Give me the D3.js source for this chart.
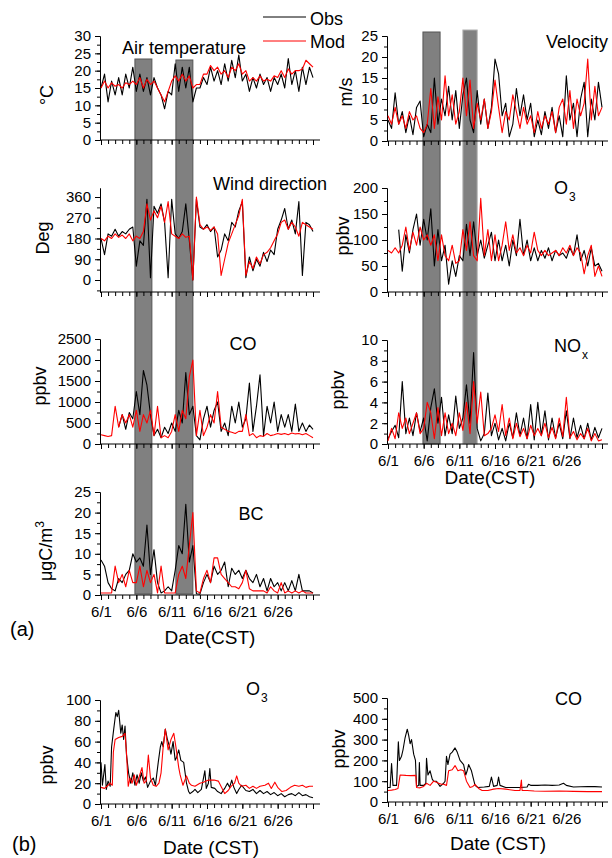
<!DOCTYPE html>
<html>
<head>
<meta charset="utf-8">
<script src="https://cdn.jsdelivr.net/npm/d3@7"></script>
<style>
  body { margin: 0; background: #fff; }
  svg { font-family: "Liberation Sans", Arial, sans-serif; }
</style>
</head>
<body>
<svg id="chart" width="612" height="858"></svg>
<script>
// half-day samples, 6/1 00:00 .. 7/1 00:00
const step = 0.5;

const tempObs = [15,19,11,17,13,18,13,19,15,21, 14,19,14,18,13,18,15,13,9,14, 13,22,14,21,15,21,11,15,15,18,
  16,21,17,20,16,22,17,23,18,24.5, 17,19,14,18,15,19,16,18,14,18, 16,19,15,23.5,16,20,14,21,16,21, 18];
const tempMod = [15,17,15,16.5,15.5,16,15,16.5,16,17, 16,18,15,17.5,16,17,15,13,11,14, 17,18.5,17,19,17,18.5,15,16,16,19,
  19,21.5,20,21,19,20,18,21,20,22, 19,20,17,18,17,18.5,17,17.5,17,18.5, 18,20,18,20.5,19,20,20,20.5,23,22, 21];

const windObs = [180,110,200,190,220,190,210,200,220,230, 60,170,150,350,10,320,290,330,250,10,
  350,200,180,210,330,170,0,350,230,220, 240,210,230,100,130,200,170,250,230,300,
  340,10,100,40,90,60,120,80,130,110, 220,260,310,220,260,200,340,20,250,240, 210];
const windMod = [180,170,190,180,200,185,195,180,200,170, 190,180,210,330,260,300,270,320,250,340,
  200,190,180,200,185,190,0,360,240,220, 230,215,230,200,20,90,160,200,240,280,
  350,20,80,50,100,70,110,120,140,170, 200,250,260,220,250,230,190,250,240,230, 220];

const coObs = [null,null,null,null,null,400,700,350,750,600, 1250,700,1750,1400,700,200,350,150,400,250,
  500,300,800,500,1700,700,900,200,100,600, 900,400,800,1000,300,500,200,900,500,1000,
  400,600,1450,300,900,1650,200,900,500,1000, 300,700,400,700,300,950,300,500,300,450, 350];
const coMod = [220,200,180,200,900,400,700,500,700,400, 800,300,700,500,800,200,900,150,200,150,
  300,700,300,800,600,1600,2000,200,800,200, 400,700,500,1250,400,350,300,280,250,300,
  300,700,200,250,150,200,180,250,200,220, 250,230,250,220,260,240,250,220,250,200, 150];

const bcObs = [8.5,7,3,1.5,1,4,3,5,6,10, 8,9,7,17,5,11,3,0.5,1,2, 1,6,12,10,22,8,12,0.3,0.2,3,
  5,3,7,5,6,8,2,6.5,5,6, 4,6,4,3,5,2,4,1,4,2, 3,1,3,1,3.5,1,5,1,1,1, 0.5];
const bcMod = [0.5,0.5,0.5,0.5,7,3,5,2,6,3, 3,7,2,6,3,5,0.5,7,0.5,0.5, 0.5,0.5,5,7,4,12,20,1,0.5,4,
  6,3,9,9,5,4,3,2,2,1.5, 3,6,1.5,1,1,1,1,0.5,2,1, 0.5,3,0.5,1,0.5,1,0.5,1,0.5,0.5, 0.5];

const velObs = [5,3,11.5,4,7,2,6,1.5,8,9.5, 1,4,2,15,4,10,6,13,5,12, 3,11,15,5,2,12,4,10,3,8,
  19.5,16,6,9,1,4,12.5,6,11,5, 9,1,5,1.5,7,3,8,2,6,1, 15.5,5,9,1,10,14,1,10,5,14, 8];
const velMod = [6,4,8,4,6,3,7,5,6,3, 2,4,12.5,3,10.5,5,15.5,6,11,4, 7,15,6,14.5,3,9,5,10,3,7,
  14.5,8,2,7,5,11,7,3,8,4, 6,2,7,3,6,4,7,2,8,10, 4,12,3,10,6,9,19.5,5,13,6, 8];

const o3Obs = [null,null,null,120,40,110,75,120,150,90, 140,100,160,50,120,60,90,15,60,30,
  70,60,130,70,135,70,100,65,90,115, 60,100,60,90,50,100,70,140,70,100,
  60,85,60,80,65,85,60,80,70,75, 65,85,70,110,60,80,50,85,50,55, 40];
const o3Mod = [80,75,85,75,90,125,80,115,90,125, 100,110,90,110,60,110,70,60,90,55,
  60,120,80,135,70,60,180,70,120,60, 110,60,90,135,80,110,75,85,70,90,
  75,115,80,70,80,70,75,80,70,85, 75,90,70,85,75,35,70,90,30,50, 30];

const noxObs = [0.5,1.2,1.8,0.6,6,1,2.5,0.8,3,1.2, 2.5,0.3,3.5,5.3,2,4.5,0.8,2.8,1,4.6,
  1.5,2.5,5.7,2,8.8,1.5,0.3,1,4.9,0.8, 2,0.4,1.5,0.3,2,0.6,3,0.8,2.5,0.5,
  3.8,0.4,4,0.8,3.2,0.4,2.5,0.6,2,0.5, 3.2,0.5,2.5,0.6,1.8,0.5,2,0.4,1.6,0.6, 1.5];
const noxMod = [0.3,1.5,0.5,3,1.5,2.5,1,2,3,1, 1.5,4,3,0.5,3.5,0.8,3,1,2,0.8,
  3,1.3,4,1,6,2,5,0.8,1,1.5, 2.8,1.2,3.8,0.8,2.5,0.5,2,0.7,1.5,0.5,
  1.8,0.8,1.5,0.8,2,0.6,1.6,0.5,2.5,0.7, 4.5,0.6,1.2,0.4,1,0.5,1.5,0.3,1,0.3, 0.4];

// (b) background run: [day, value]
const o3bObs = [[0,40],[0.2,18],[0.55,38],[0.75,14],[1.0,22],[1.3,17],[1.5,55],[1.8,72],[2.1,88],[2.3,84],[2.5,90],
  [2.8,68],[3.0,76],[3.2,62],[3.4,75],[3.6,48],[3.9,30],[4.2,20],[4.5,30],[4.8,18],[5.1,28],[5.4,20],[5.7,30],
  [6.0,22],[6.3,26],[6.6,16],[7.0,22],[7.4,25],[7.7,18],[8.1,40],[8.4,55],[8.6,60],[8.8,55],[9.1,72],[9.4,62],
  [9.7,55],[9.9,48],[10.2,60],[10.5,42],[10.7,45],[11.0,52],[11.3,42],[11.7,40],[12.1,20],[12.4,12],[12.6,10],
  [13.0,12],[13.3,14],[13.7,11],[14.2,14],[14.7,32],[14.9,15],[15.2,20],[15.4,34],[15.6,16],[16.1,15],[16.5,12],
  [17.0,10],[17.5,15],[17.9,20],[18.2,16],[18.5,23],[18.8,16],[19.2,10],[19.5,14],[19.9,18],[20.5,13],
  [21,12],[21.5,14],[22,10],[22.5,13],[23,10],[23.5,12],[24,9],[24.5,11],[25,8],[25.5,10],[26,7],[26.5,9],
  [27,10],[27.5,8],[28,11],[28.5,8],[29,9],[29.5,7],[30,6]];
const o3bMod = [[0,16],[0.5,15],[1,18],[1.3,20],[1.6,18],[1.75,50],[2.0,62],[2.5,64],[3.0,65],[3.4,68],[3.6,50],
  [3.85,17],[4.1,25],[4.4,20],[4.7,28],[5.0,18],[5.4,26],[5.8,35],[6.1,20],[6.4,22],[6.7,47],[7.0,25],[7.4,18],
  [7.8,17],[8.2,20],[8.5,30],[8.8,55],[9.1,72],[9.5,52],[9.9,62],[10.3,68],[10.6,55],[11.0,35],[11.2,28],
  [11.6,18],[12.1,27],[12.5,20],[12.8,18],[13.3,17],[14,20],[14.5,21],[15.2,23],[16,23],[16.6,22],[17.5,10],
  [18,13],[18.4,17],[18.9,20],[19.2,27],[19.5,20],[19.9,17],[20.5,18],[21,15],[21.5,17],[22,15],[22.5,17],
  [23.2,18],[23.7,20],[24.1,15],[24.6,21],[25.0,16],[25.6,12],[26.2,13],[26.8,16],[27.4,18],[28,17],[28.5,18],
  [29,16],[29.5,17],[30,17]];

const cobObs = [[0,70],[0.3,70],[0.5,185],[0.7,80],[1.2,80],[1.45,290],[1.6,200],[1.9,220],[2.1,250],[2.4,310],
  [2.7,350],[2.9,320],[3.1,280],[3.3,300],[3.6,230],[3.85,200],[4.0,75],[4.3,80],[4.4,190],[4.5,80],[5.0,80],
  [5.3,90],[5.4,210],[5.6,130],[5.9,150],[6.2,110],[6.4,100],[6.8,100],[7.3,75],[7.8,90],[8.0,100],[8.2,220],
  [8.4,180],[8.7,230],[9.0,240],[9.4,260],[9.7,240],[10.1,200],[10.6,180],[10.9,130],[11.1,150],[11.3,180],
  [11.7,150],[12.2,80],[12.6,70],[13.5,72],[14.2,75],[14.5,120],[14.8,75],[15.3,80],[15.5,120],[15.7,80],
  [16.5,70],[17.5,70],[18.5,70],[19.5,72],[19.7,85],[20.0,80],[21,80],[22,82],[23,80],[24,82],[24.6,90],
  [25.0,80],[26,72],[27,73],[28,74],[29,74],[30,72]];
const cobMod = [[0,55],[0.5,57],[1,60],[1.4,65],[1.7,130],[2.5,128],[3.2,127],[3.9,128],[4.0,70],[4.5,68],[5.0,75],
  [5.4,90],[5.9,80],[6.4,100],[6.8,95],[7.1,90],[7.5,85],[7.8,85],[8.2,80],[8.5,150],[9.0,155],[9.4,175],
  [9.8,150],[10.2,155],[10.6,150],[11.0,100],[11.5,70],[11.9,75],[12.2,85],[12.7,65],[13.2,55],[14,55],
  [14.8,62],[15.5,65],[16.5,62],[17.8,55],[18.5,55],[18.7,105],[18.8,55],[19.5,55],[20.5,53],[22,52],[24,53],
  [26,51],[28,50],[30,50]];

// shaded episodes (days after 6/1 00:00)
const leftBars = [[4.8, 7.2], [10.6, 13.0]];
const rightBars = [[4.9, 7.3], [10.5, 12.5]];

const dayTicks = d3.range(0, 31);
const dayLabels = d3.range(0, 26, 5);

const svg = d3.select('#chart');
const font = '"Liberation Sans", Arial, sans-serif';

const leftCol = { xl: 101, xr: 313, axisL: 100, axisR: 320 };
const rightCol = { xl: 388, xr: 602, axisL: 387, axisR: 608 };

function toPairs(arr) {
  return arr.map((v, i) => [i * step, v]);
}

const panels = [
  { col: leftCol, vals: [0, 30], pix: [140, 36], top: 36, bottom: 140, major: d3.range(0, 31, 5), minor: d3.range(0, 30.1, 2.5),
    obs: toPairs(tempObs), mod: toPairs(tempMod) },
  { col: leftCol, vals: [0, 360], pix: [280, 197], top: 188, bottom: 292, major: d3.range(0, 361, 90), minor: d3.range(-45, 361, 45),
    obs: toPairs(windObs), mod: toPairs(windMod) },
  { col: leftCol, vals: [0, 2500], pix: [444, 339], top: 339, bottom: 444, major: d3.range(0, 2501, 500), minor: d3.range(0, 2501, 250),
    obs: toPairs(coObs), mod: toPairs(coMod) },
  { col: leftCol, vals: [0, 25], pix: [595, 492], top: 492, bottom: 595, major: d3.range(0, 26, 5), minor: d3.range(0, 25.1, 2.5),
    obs: toPairs(bcObs), mod: toPairs(bcMod), labels: true },
  { col: rightCol, vals: [0, 25], pix: [141, 36], top: 36, bottom: 141, major: d3.range(0, 26, 5), minor: d3.range(0, 25.1, 2.5),
    obs: toPairs(velObs), mod: toPairs(velMod) },
  { col: rightCol, vals: [0, 200], pix: [292, 188], top: 188, bottom: 292, major: d3.range(0, 201, 50), minor: d3.range(0, 201, 25),
    obs: toPairs(o3Obs), mod: toPairs(o3Mod) },
  { col: rightCol, vals: [0, 10], pix: [444, 340], top: 340, bottom: 444, major: d3.range(0, 11, 2), minor: d3.range(0, 10.1, 1),
    obs: toPairs(noxObs), mod: toPairs(noxMod), labels: true },
  { col: leftCol, vals: [0, 100], pix: [804, 700], top: 700, bottom: 804, major: d3.range(0, 101, 20), minor: d3.range(0, 101, 10),
    obs: o3bObs, mod: o3bMod, labels: true },
  { col: rightCol, vals: [0, 500], pix: [802, 698], top: 698, bottom: 802, major: d3.range(0, 501, 100), minor: d3.range(0, 501, 50),
    obs: cobObs, mod: cobMod, labels: true }
];

// gray episode bars go underneath everything
function drawBars(col, bars, tops, bottom) {
  const x = d3.scaleLinear([0, 30], [col.xl, col.xr]);
  bars.forEach((b, i) => {
    svg.append('rect')
      .attr('x', x(b[0])).attr('y', tops[i])
      .attr('width', x(b[1]) - x(b[0])).attr('height', bottom - tops[i])
      .attr('fill', '#808080')
      .attr('stroke', i === 1 && col === rightCol ? '#b0b0b0' : '#555')
      .attr('stroke-width', 1);
  });
}
drawBars(leftCol, leftBars, [59, 60], 594);
drawBars(rightCol, rightBars, [32, 30], 444);

function drawPanel(p) {
  const col = p.col;
  const x = d3.scaleLinear([0, 30], [col.xl, col.xr]);
  const y0 = d3.scaleLinear(p.vals, p.pix);
  const y = d3.scaleLinear([y0.invert(p.bottom), y0.invert(p.top)], [p.bottom, p.top]);
  const g = svg.append('g');

  g.append('g').attr('transform', `translate(${col.axisL},0)`)
    .call(d3.axisLeft(y).tickValues(p.minor).tickSize(3).tickSizeOuter(0).tickFormat(''));
  const yMajor = g.append('g').attr('transform', `translate(${col.axisL},0)`)
    .call(d3.axisLeft(y).tickValues(p.major).tickSize(5).tickSizeOuter(0).tickPadding(4).tickFormat(d3.format('d')));
  yMajor.selectAll('text').attr('font-size', 15).attr('font-family', font).attr('fill', '#000');

  const xa = g.append('g').attr('transform', `translate(0,${p.bottom})`);
  xa.append('g').call(d3.axisBottom(x).tickValues(dayTicks).tickSize(4).tickFormat(''))
    .call(s => s.select('.domain').remove());
  const xMaj = xa.append('g').call(d3.axisBottom(x).tickValues(dayLabels.concat([30])).tickSize(5).tickPadding(6)
      .tickFormat(d => (p.labels && d < 30) ? `6/${d + 1}` : ''))
    .call(s => s.select('.domain').remove());
  xMaj.selectAll('text').attr('font-size', 15).attr('font-family', font).attr('fill', '#000');
  xa.append('line').attr('x1', col.axisL).attr('x2', col.axisR).attr('stroke', '#000');

  const line = d3.line()
    .defined(d => d[1] != null)
    .x(d => x(d[0]))
    .y(d => y(d[1]));
  g.append('path').datum(p.obs).attr('d', line)
    .attr('fill', 'none').attr('stroke', '#000').attr('stroke-width', 1.1).attr('stroke-linejoin', 'round');
  g.append('path').datum(p.mod).attr('d', line)
    .attr('fill', 'none').attr('stroke', '#ff0000').attr('stroke-width', 1.1).attr('stroke-linejoin', 'round');
}
panels.forEach(drawPanel);

// text helpers
function label(x, y, txt, size, anchor) {
  return svg.append('text').attr('x', x).attr('y', y).attr('font-size', size)
    .attr('text-anchor', anchor || 'start').attr('fill', '#000').text(txt);
}
function vlabel(x, y, txt) {
  return svg.append('text').attr('transform', `translate(${x},${y}) rotate(-90)`)
    .attr('font-size', 18).attr('text-anchor', 'middle').attr('fill', '#000').text(txt);
}
function subLabel(x, y, main, sub) {
  const t = label(x, y, main, 18);
  t.append('tspan').attr('font-size', 12).attr('dy', 7).attr('dx', 1).text(sub);
}

// panel titles
label(184, 54, 'Air temperature', 18, 'middle');
label(546, 48, 'Velocity', 18);
label(213, 190, 'Wind direction', 18);
subLabel(554, 194, 'O', '3');
label(243, 350, 'CO', 18, 'middle');
subLabel(554, 352, 'NO', 'x');
label(251, 520, 'BC', 18, 'middle');
subLabel(246, 695, 'O', '3');
label(555, 705, 'CO', 18);

// axis titles
vlabel(53, 95, '°C');
vlabel(49, 238, 'Deg');
vlabel(46, 386, 'ppbv');
const bcl = vlabel(52, 551, 'μgC/m');
bcl.append('tspan').attr('font-size', 12).attr('dy', -8).text('3');
vlabel(352, 92, 'm/s');
vlabel(349, 236, 'ppbv');
vlabel(344, 390, 'ppbv');
vlabel(53, 765, 'ppbv');
vlabel(345, 749, 'ppbv');

label(210, 644, 'Date(CST)', 19, 'middle');
label(490, 484, 'Date(CST)', 19, 'middle');
label(211, 854, 'Date (CST)', 19, 'middle');
label(498, 850, 'Date (CST)', 19, 'middle');
label(10, 636, '(a)', 20);
label(12, 851, '(b)', 20);

// legend
svg.append('line').attr('x1', 263).attr('x2', 306).attr('y1', 17).attr('y2', 17).attr('stroke', '#000');
svg.append('line').attr('x1', 263).attr('x2', 306).attr('y1', 41).attr('y2', 41).attr('stroke', '#ff0000');
label(310, 25, 'Obs', 18);
label(310, 48, 'Mod', 18);
</script>
</body>
</html>
